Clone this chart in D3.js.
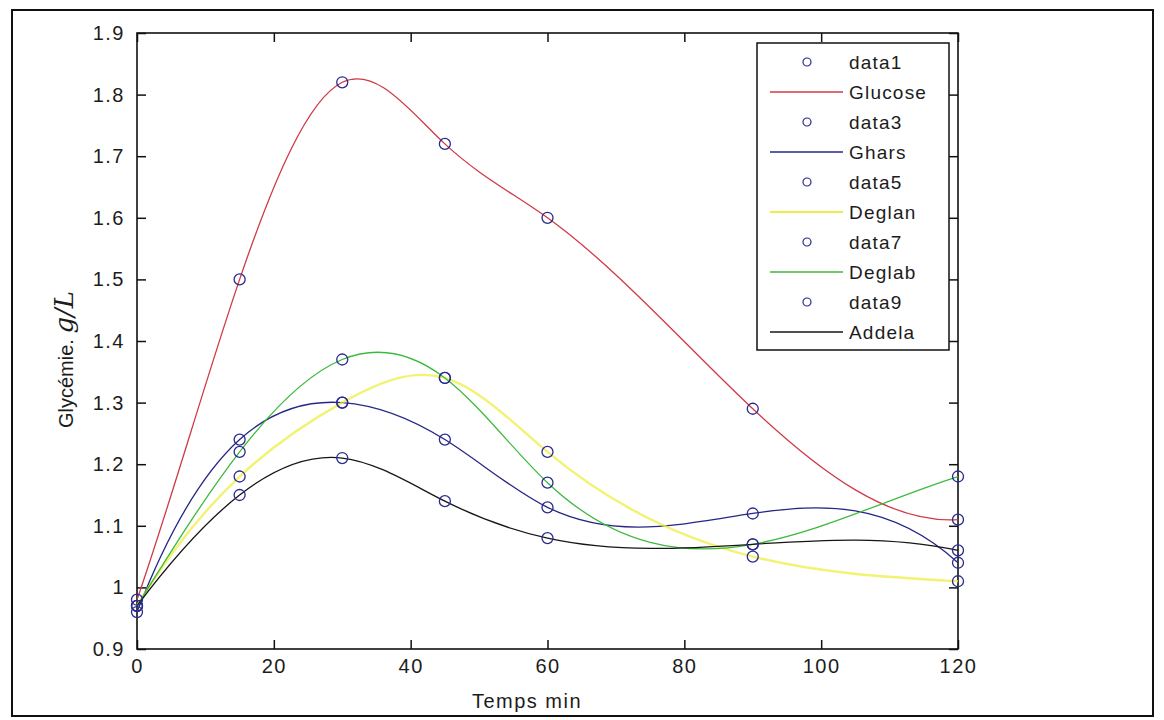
<!DOCTYPE html>
<html>
<head>
<meta charset="utf-8">
<script src="https://cdn.jsdelivr.net/npm/d3@7"></script>
<style>
	body { margin: 0; background: #fff; }
	text { font-family: "Liberation Sans", Arial, sans-serif; fill: #1c1c1c; }
</style>
</head>
<body>
<div id="chart"></div>
<script>
// time points (min)
let times = [0, 15, 30, 45, 60, 90, 120];

// glycemia values g/L
let glucose = [0.98, 1.50, 1.82, 1.72, 1.60, 1.29, 1.11];
let ghars = [0.96, 1.24, 1.30, 1.24, 1.13, 1.12, 1.04];
let deglan = [0.97, 1.18, 1.30, 1.34, 1.22, 1.05, 1.01];
let deglab = [0.97, 1.22, 1.37, 1.34, 1.17, 1.07, 1.18];
let addela = [0.97, 1.15, 1.21, 1.14, 1.08, 1.07, 1.06];

let seriesNames = ["Glucose", "Ghars", "Deglan", "Deglab", "Addela"];
let markerNames = ["data1", "data3", "data5", "data7", "data9"];
let lineColours = ["#cf3a46", "#262686", "#eeee44", "#3dba3d", "#161616"];

let xTicks = [0, 20, 40, 60, 80, 100, 120];
let yTicks = [0.9, 1, 1.1, 1.2, 1.3, 1.4, 1.5, 1.6, 1.7, 1.8, 1.9];

let allValues = [glucose, ghars, deglan, deglab, addela];

// cubic spline y(x) with not-a-knot ends (like matlab spline), drawn as bezier pieces
function SplineCurve(context) { this._context = context; }
SplineCurve.prototype = {
	areaStart: function () { this._line = 0; },
	areaEnd: function () { this._line = NaN; },
	lineStart: function () { this._x = []; this._y = []; },
	point: function (px, py) { this._x.push(+px); this._y.push(+py); },
	lineEnd: function () {
		let xs = this._x, ys = this._y, n = xs.length;
		let ctx = this._context;
		if (n < 4) {
			ctx.moveTo(xs[0], ys[0]);
			for (let i = 1; i < n; i++) ctx.lineTo(xs[i], ys[i]);
			return;
		}
		let h = [];
		for (let i = 0; i < n - 1; i++) h.push(xs[i + 1] - xs[i]);
		// build system for second derivatives M
		let A = [], b = [];
		for (let i = 0; i < n; i++) { A.push(new Array(n).fill(0)); b.push(0); }
		A[0][0] = h[1]; A[0][1] = -(h[0] + h[1]); A[0][2] = h[0];
		for (let i = 1; i < n - 1; i++) {
			A[i][i - 1] = h[i - 1];
			A[i][i] = 2 * (h[i - 1] + h[i]);
			A[i][i + 1] = h[i];
			b[i] = 6 * ((ys[i + 1] - ys[i]) / h[i] - (ys[i] - ys[i - 1]) / h[i - 1]);
		}
		A[n - 1][n - 3] = h[n - 2]; A[n - 1][n - 2] = -(h[n - 3] + h[n - 2]); A[n - 1][n - 1] = h[n - 3];
		// gaussian elimination
		for (let c = 0; c < n; c++) {
			let p = c;
			for (let r = c + 1; r < n; r++) if (Math.abs(A[r][c]) > Math.abs(A[p][c])) p = r;
			let tmp = A[c]; A[c] = A[p]; A[p] = tmp;
			let tb = b[c]; b[c] = b[p]; b[p] = tb;
			for (let r = c + 1; r < n; r++) {
				let f = A[r][c] / A[c][c];
				for (let k = c; k < n; k++) A[r][k] -= f * A[c][k];
				b[r] -= f * b[c];
			}
		}
		let M = new Array(n).fill(0);
		for (let r = n - 1; r >= 0; r--) {
			let s = b[r];
			for (let k = r + 1; k < n; k++) s -= A[r][k] * M[k];
			M[r] = s / A[r][r];
		}
		let m = [];
		for (let i = 0; i < n - 1; i++) m.push((ys[i + 1] - ys[i]) / h[i] - h[i] * (2 * M[i] + M[i + 1]) / 6);
		m.push((ys[n - 1] - ys[n - 2]) / h[n - 2] + h[n - 2] * (M[n - 2] + 2 * M[n - 1]) / 6);
		ctx.moveTo(xs[0], ys[0]);
		for (let i = 0; i < n - 1; i++) {
			let d = h[i] / 3;
			ctx.bezierCurveTo(xs[i] + d, ys[i] + m[i] * d, xs[i + 1] - d, ys[i + 1] - m[i + 1] * d, xs[i + 1], ys[i + 1]);
		}
	}
};
let curveSpline = function (context) { return new SplineCurve(context); };

let width = 1164, height = 720;
let margin = { left: 137, top: 33, right: 1164 - 958, bottom: 720 - 649 };
let innerW = width - margin.left - margin.right;
let innerH = height - margin.top - margin.bottom;

let svg = d3.select("#chart").append("svg")
	.attr("width", width)
	.attr("height", height);

// outer frame of the figure
svg.append("rect")
	.attr("x", 12).attr("y", 10)
	.attr("width", 1141).attr("height", 706)
	.attr("fill", "none")
	.attr("stroke", "#111")
	.attr("stroke-width", 2);

let g = svg.append("g")
	.attr("transform", "translate(" + margin.left + "," + margin.top + ")");

let x = d3.scaleLinear().domain([0, 120]).range([0, innerW]);
let y = d3.scaleLinear().domain([0.9, 1.9]).range([innerH, 0]);

let fmt = function (d) { return d3.format("")(+d.toFixed(1)); };

// axes, ticks inward, mirrored (box on)
let axisStyle = function (sel) {
	sel.select(".domain").remove();
	sel.selectAll("line").attr("stroke", "#111").attr("stroke-width", 1.5);
	sel.selectAll("text")
		.style("font-size", "20px")
		.style("letter-spacing", "1.5px")
		.attr("fill", "#1c1c1c");
};

g.append("g")
	.attr("transform", "translate(0," + innerH + ")")
	.call(d3.axisBottom(x).tickValues(xTicks).tickSize(-9).tickPadding(10).tickFormat(fmt))
	.call(axisStyle);

g.append("g")
	.call(d3.axisTop(x).tickValues(xTicks).tickSize(-9).tickFormat(""))
	.call(axisStyle);

g.append("g")
	.call(d3.axisLeft(y).tickValues(yTicks).tickSize(-9).tickPadding(12).tickFormat(fmt))
	.call(axisStyle);

g.append("g")
	.attr("transform", "translate(" + innerW + ",0)")
	.call(d3.axisRight(y).tickValues(yTicks).tickSize(-9).tickFormat(""))
	.call(axisStyle);

g.append("rect")
	.attr("width", innerW).attr("height", innerH)
	.attr("fill", "none")
	.attr("stroke", "#111")
	.attr("stroke-width", 1.6);

// axis labels
svg.append("text")
	.attr("x", 527).attr("y", 708)
	.attr("text-anchor", "middle")
	.style("font-size", "20px")
	.style("letter-spacing", "1.5px")
	.text("Temps min");

let ylab = svg.append("text")
	.attr("transform", "translate(73,428) rotate(-90)")
	.attr("text-anchor", "start")
	.style("font-size", "20px");
ylab.append("tspan").text("Glycémie. ");
ylab.append("tspan")
	.style("font-family", "'DejaVu Serif', serif")
	.style("font-style", "italic")
	.style("font-size", "26px")
	.text("g/L");

// curves
let line = d3.line()
	.x(function (d) { return x(d.t); })
	.y(function (d) { return y(d.v); })
	.curve(curveSpline);

let series = seriesNames.map(function (name, i) {
	return {
		name: name,
		colour: lineColours[i],
		values: times.map(function (t, j) { return { t: t, v: allValues[i][j] }; })
	};
});

g.selectAll(".curve")
	.data(series)
	.enter().append("path")
	.attr("class", "curve")
	.attr("fill", "none")
	.attr("stroke", function (d) { return d.colour; })
	.attr("stroke-width", function (d) { return d.name == "Deglan" ? 2.4 : 1.3; })
	.attr("stroke-opacity", function (d) { return d.name == "Deglan" ? 0.75 : 1; })
	.attr("d", function (d) { return line(d.values); });

// measured points
let points = [];
series.forEach(function (s) {
	s.values.forEach(function (p) { points.push(p); });
});

g.selectAll(".pt")
	.data(points)
	.enter().append("circle")
	.attr("class", "pt")
	.attr("cx", function (d) { return x(d.t); })
	.attr("cy", function (d) { return y(d.v); })
	.attr("r", 5.5)
	.attr("fill", "none")
	.attr("stroke", "#2a2a8e")
	.attr("stroke-width", 1.3);

// legend
let legendItems = [];
seriesNames.forEach(function (name, i) {
	legendItems.push({ label: markerNames[i], type: "marker" });
	legendItems.push({ label: name, type: "line", colour: lineColours[i] });
});

let legend = svg.append("g").attr("class", "legend");

legend.append("rect")
	.attr("x", 757).attr("y", 43)
	.attr("width", 192).attr("height", 307)
	.attr("fill", "#fff")
	.attr("stroke", "#111")
	.attr("stroke-width", 1.5);

let li = legend.selectAll(".item")
	.data(legendItems)
	.enter().append("g")
	.attr("class", "item")
	.attr("transform", function (d, i) { return "translate(0," + (62 + i * 30) + ")"; });

li.filter(function (d) { return d.type == "marker"; })
	.append("circle")
	.attr("cx", 807).attr("cy", 0)
	.attr("r", 4)
	.attr("fill", "none")
	.attr("stroke", "#2a2a8e")
	.attr("stroke-width", 1.2);

li.filter(function (d) { return d.type == "line"; })
	.append("line")
	.attr("x1", 770).attr("x2", 843)
	.attr("y1", 0).attr("y2", 0)
	.attr("stroke", function (d) { return d.colour; })
	.attr("stroke-width", function (d) { return d.label == "Deglan" ? 2.2 : 1.4; });

li.append("text")
	.attr("x", 849)
	.attr("dy", "0.35em")
	.style("font-size", "19px")
	.style("letter-spacing", "1.2px")
	.text(function (d) { return d.label; });
</script>
</body>
</html>
